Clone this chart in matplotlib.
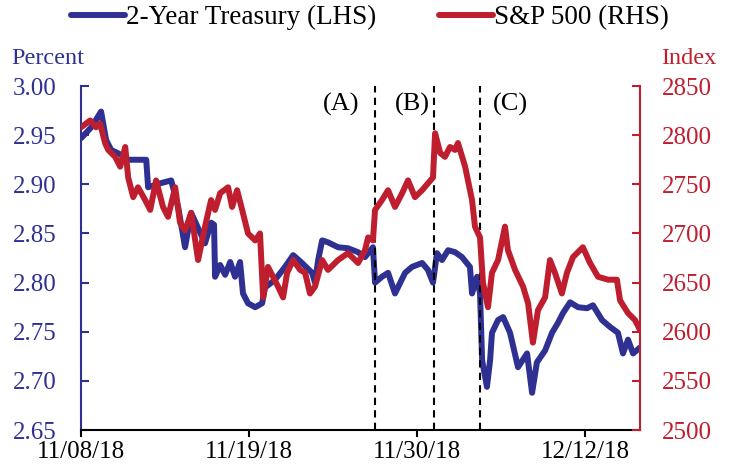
import matplotlib
matplotlib.use("Agg")
import matplotlib.pyplot as plt
import numpy as np

plt.rcParams['font.family'] = ['Liberation Serif', 'DejaVu Serif']

# time axis in trading-day units (0 = 11/08/18)
tick_pos = [0, 8, 16, 24]
tick_labels = ['11/08/18', '11/19/18', '11/30/18', '12/12/18']

# 2-Year Treasury yield, percent
ust_x = [0.0, 0.48, 0.95, 1.19, 1.43, 2.10, 2.24, 3.10, 3.19, 3.76, 4.29, 4.62, 4.95, 5.24,
         5.90, 6.19, 6.33, 6.38, 6.62, 6.86, 7.10, 7.33, 7.57, 7.71, 7.95, 8.29, 8.62, 8.76,
         9.24, 9.71, 10.10, 10.52, 11.0, 11.14, 11.29, 11.48, 11.76, 12.24, 12.71, 13.19,
         13.52, 13.90, 14.0, 14.33, 14.62, 14.95, 15.43, 15.76, 16.24, 16.52, 16.76, 16.95,
         17.19, 17.48, 17.81, 18.14, 18.52, 18.62, 18.86, 19.0, 19.1, 19.33, 19.48, 19.57,
         19.86, 20.1, 20.43, 20.81, 21.24, 21.48, 21.71, 22.1, 22.43, 22.71, 22.95, 23.29,
         23.67, 24.1, 24.38, 24.81, 25.19, 25.57, 25.81, 26.05, 26.29, 26.62]
ust = [2.947, 2.958, 2.974, 2.945, 2.935, 2.928, 2.925, 2.925, 2.897, 2.901, 2.904, 2.877,
       2.836, 2.871, 2.840, 2.861, 2.859, 2.806, 2.818, 2.808, 2.821, 2.806, 2.821, 2.789,
       2.779, 2.775, 2.779, 2.795, 2.803, 2.816, 2.828, 2.820, 2.810, 2.800, 2.823, 2.843,
       2.841, 2.836, 2.835, 2.831, 2.826, 2.836, 2.800, 2.806, 2.810, 2.789, 2.810, 2.816,
       2.820, 2.813, 2.800, 2.830, 2.823, 2.833, 2.831, 2.826, 2.816, 2.789, 2.806, 2.789,
       2.721, 2.694, 2.721, 2.749, 2.762, 2.765, 2.749, 2.714, 2.728, 2.688, 2.719, 2.731,
       2.749, 2.759, 2.769, 2.780, 2.775, 2.774, 2.777, 2.762, 2.755, 2.749, 2.728, 2.742,
       2.728, 2.734]

# S&P 500 index
spx_x = [0.0, 0.43, 0.71, 0.90, 1.14, 1.29, 1.62, 1.86, 2.10, 2.24, 2.48, 2.71, 3.05, 3.29,
         3.57, 3.90, 4.14, 4.48, 4.71, 4.95, 5.24, 5.57, 5.90, 6.19, 6.38, 6.62, 7.0, 7.19,
         7.43, 7.67, 7.95, 8.29, 8.52, 8.67, 8.90, 9.14, 9.38, 9.62, 9.81, 10.10, 10.43,
         10.67, 10.90, 11.14, 11.48, 11.76, 12.24, 12.71, 13.05, 13.19, 13.52, 13.67, 13.90,
         14.0, 14.33, 14.62, 14.95, 15.29, 15.57, 15.90, 16.24, 16.52, 16.76, 16.86, 17.10,
         17.33, 17.57, 17.81, 17.95, 18.29, 18.62, 18.76, 19.0, 19.14, 19.38, 19.57, 19.86,
         20.19, 20.33, 20.67, 21.05, 21.29, 21.52, 21.76, 22.1, 22.33, 22.57, 22.9, 23.14,
         23.43, 23.90, 24.24, 24.62, 25.10, 25.52, 25.67, 26.05, 26.38, 26.62]
spx = [2808, 2815, 2808, 2812, 2792, 2785, 2778, 2768, 2788, 2757, 2737, 2747, 2734, 2724,
       2754, 2727, 2717, 2747, 2711, 2703, 2721, 2673, 2707, 2734, 2724, 2741, 2747, 2727,
       2744, 2724, 2700, 2693, 2700, 2635, 2666, 2656, 2646, 2635, 2660, 2673, 2663, 2660,
       2639, 2646, 2673, 2663, 2673, 2680, 2673, 2670, 2683, 2696, 2693, 2724, 2734, 2744,
       2727, 2741, 2754, 2737, 2744, 2751, 2757, 2802, 2782, 2778, 2788, 2785, 2792, 2768,
       2734, 2707, 2696, 2650, 2625, 2660, 2673, 2707, 2683, 2663, 2646, 2629, 2589, 2622,
       2635, 2673, 2660, 2639, 2660, 2676, 2686, 2670, 2656, 2653, 2653, 2632, 2619, 2612,
       2602]

# event markers
event_x = [14.0, 16.8, 19.0]
event_labels = ['(A)', '(B)', '(C)']
event_label_x = [12.37, 15.76, 20.47]

blue = '#2E3192'
red = '#BE1E2D'

fig = plt.figure(figsize=(7.31, 4.65), dpi=100)
ax = fig.add_axes([0.111, 0.075, 0.7645, 0.74])
ax2 = ax.twinx()

l1, = ax.plot(ust_x, ust, color=blue, lw=4.3, solid_capstyle='round', solid_joinstyle='round')
l2, = ax2.plot(spx_x, spx, color=red, lw=4.3, solid_capstyle='round', solid_joinstyle='round')

for ex in event_x:
    ax.axvline(ex, color='black', ls=(0, (3.5, 2.5)), lw=1.5)
for lx, lab in zip(event_label_x, event_labels):
    ax.text(lx, 2.981, lab, ha='center', va='center', fontsize=19)

ax.set_xlim(0, 26.62)
ax.set_ylim(2.65, 3.00)
ax2.set_ylim(2500, 2850)
ax.set_yticks(np.arange(2.65, 3.001, 0.05))
ax.set_yticklabels([f'{v:.2f}' for v in np.arange(2.65, 3.001, 0.05)])
ax2.set_yticks(np.arange(2500, 2851, 50))
ax.set_xticks(tick_pos)
ax.set_xticklabels(tick_labels)

for a in (ax, ax2):
    a.spines['top'].set_visible(False)
ax2.spines['left'].set_visible(False)
ax2.spines['bottom'].set_visible(False)
ax.spines['right'].set_visible(False)
ax.spines['left'].set_color(blue)
ax.spines['left'].set_linewidth(1.5)
ax2.spines['right'].set_color(red)
ax2.spines['right'].set_linewidth(1.5)
ax.spines['bottom'].set_linewidth(1.5)

ax.tick_params(axis='y', direction='in', colors=blue, labelsize=18, length=6, width=1.5, pad=18)
ax.tick_params(axis='x', direction='out', labelsize=18, length=5, width=1.5, pad=3)
ax2.tick_params(axis='y', direction='in', colors=red, labelsize=18, length=6, width=1.5, pad=16)

fig.text(0.015, 0.875, 'Percent', color=blue, fontsize=17.5, va='center', ha='left')
fig.text(0.905, 0.875, 'Index', color=red, fontsize=17.5, va='center', ha='left')

fig.legend([l1, l2], ['2-Year Treasury (LHS)', 'S&P 500 (RHS)'], loc='center',
           bbox_to_anchor=(0.506, 0.962), ncol=2, frameon=False, fontsize=19.5,
           handlelength=2.0, handletextpad=0.05, columnspacing=2.3)

fig.savefig('out.png', dpi=100)
